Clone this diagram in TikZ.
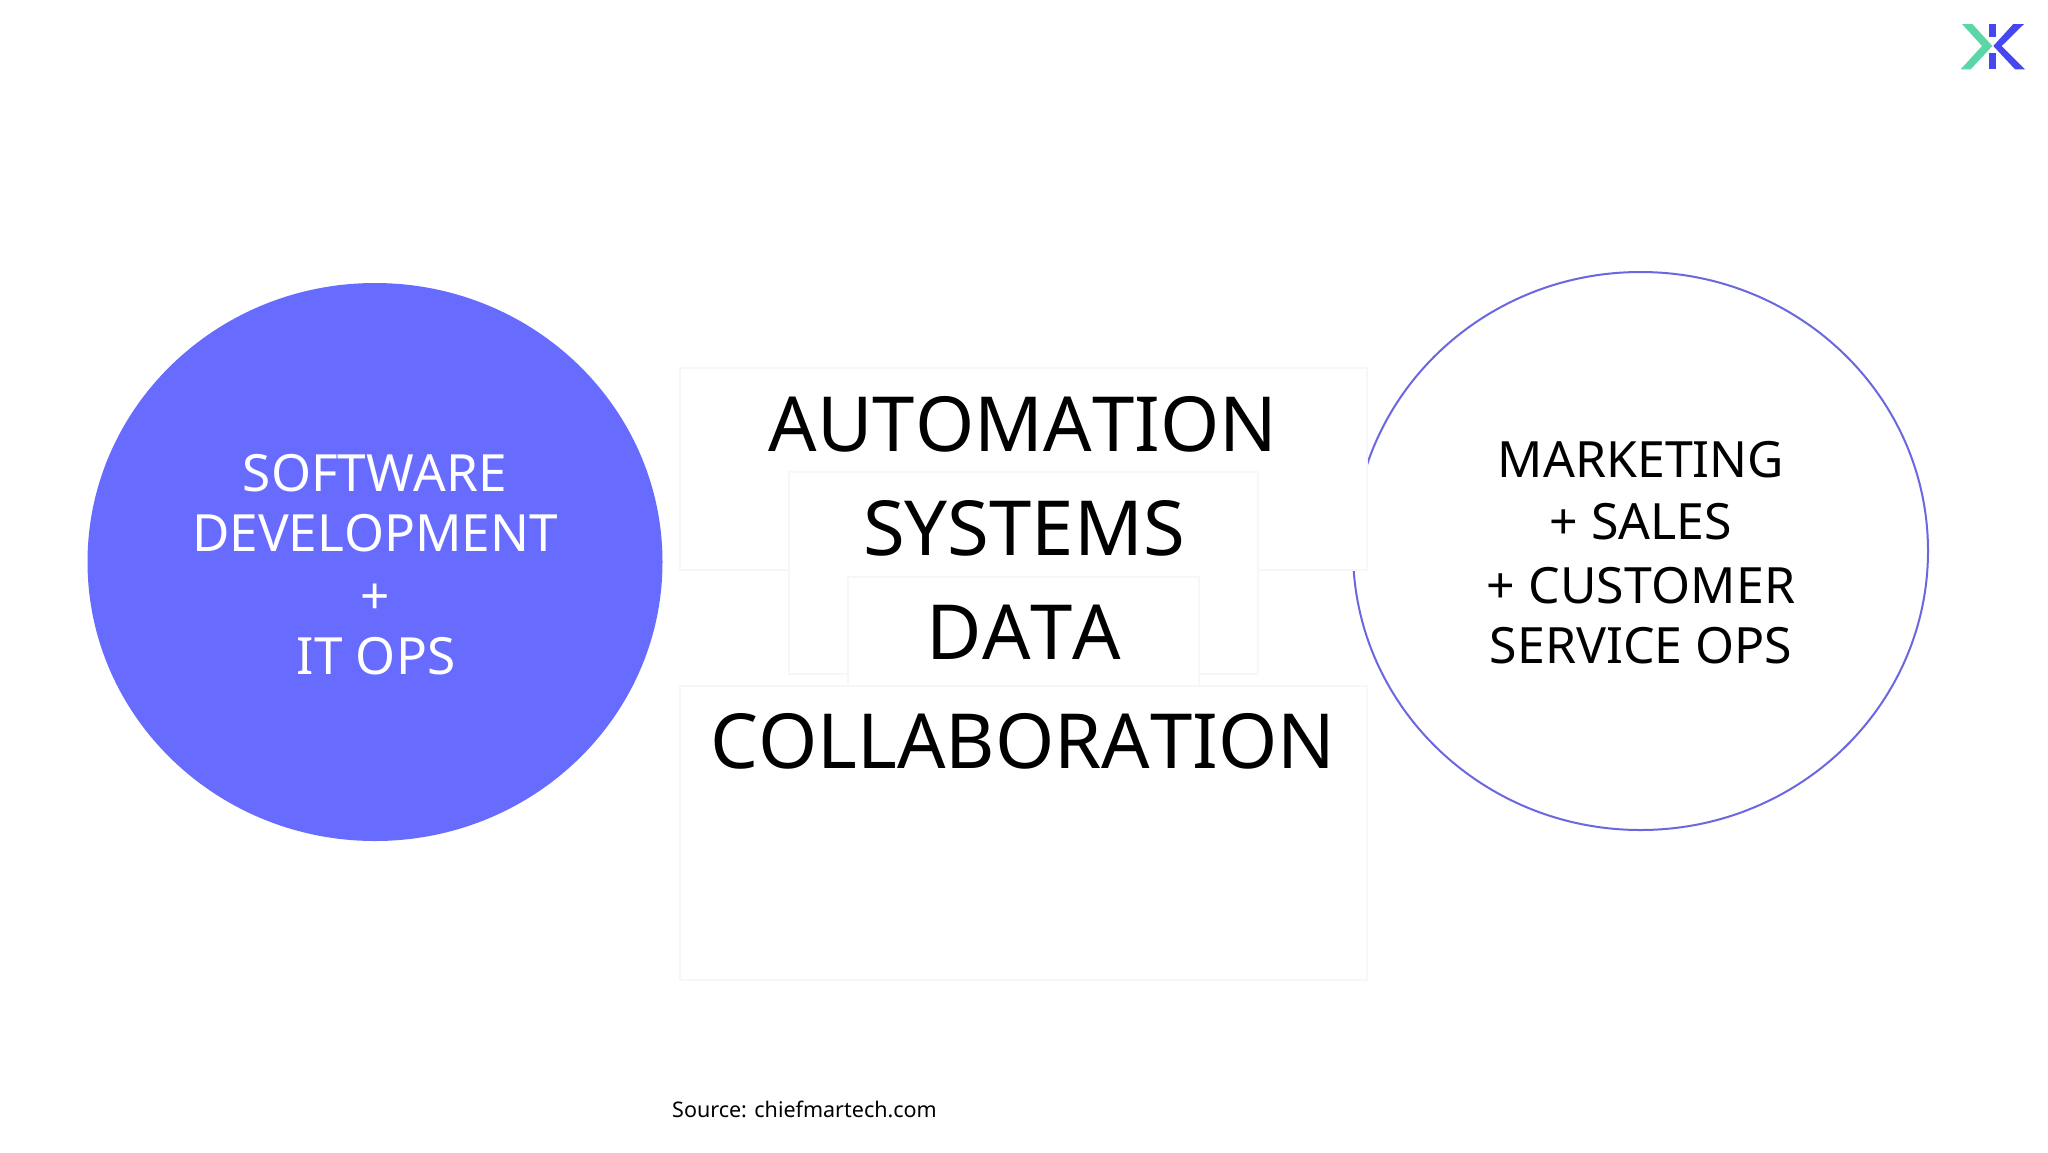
\documentclass[tikz,border=0pt]{standalone}
\usepackage{fontspec}
\setmainfont{Noto Sans}[Kerning=Off]
\newfontfamily\kernedfont{Noto Sans}
\definecolor{violet}{HTML}{676CFF}
\definecolor{ringc}{HTML}{6A67E0}
\definecolor{boxline}{HTML}{F8F6FA}
\definecolor{logog}{HTML}{5BD6A6}
\definecolor{logob}{HTML}{4647F0}
\tikzset{x=1pt,y=-1pt,
 layer/.style={draw=boxline,fill=white,line width=1.4pt},
 big/.style={anchor=base,font=\fontsize{76}{76}\selectfont,text=black,inner sep=0pt},
 mid/.style={anchor=base,font=\fontsize{50}{50}\selectfont,inner sep=0pt},
 midleft/.style={anchor=base,font=\fontsize{51.3}{51.3}\selectfont,text=white,inner sep=0pt}}
\begin{document}
\begin{tikzpicture}
\useasboundingbox (0,0) rectangle (2048,1152);
\fill[white] (0,0) rectangle (2048,1152);
\fill[violet] (375,562) ellipse [x radius=287.5,y radius=279];
\draw[ringc,line width=2pt] (1640.5,551) ellipse [x radius=287.5,y radius=279];
\draw[layer] (680,368) rectangle (1367,570);
\draw[layer] (789,472) rectangle (1258,674);
\draw[layer] (848,577) rectangle (1199,690);
\draw[layer] (680,686) rectangle (1367,980);
\node[big] (auto) at (1023,451) {AUTOMATION};
\node[big] (sys) at (1024,555) {SYSTEMS};
\node[big] (data) at (1024,659) {DATA};
\node[big] (coll) at (1023,768) {COLLABORATION};
\node[midleft] (l1) at (375,491) {SOFTWARE};
\node[midleft] (l2) at (375,551) {DEVELOPMENT};
\node[midleft] (l3) at (375,614) {+};
\node[midleft] (l4) at (376,674) {IT OPS};
\node[mid] (r1) at (1641,477) {MARKETING};
\node[mid] (r2) at (1641,539) {+ SALES};
\node[mid] (r3) at (1641,603) {+ CUSTOMER};
\node[mid] (r4) at (1641,663) {SERVICE OPS};
\node[anchor=base west,inner sep=0pt,font=\kernedfont\fontsize{21.5}{22}\selectfont] (src) at (672,1117) {Source: chiefmartech.com};
\fill[logog] (1962,24) -- (1972.3,24) -- (1992.3,46) -- (1970.7,69.3) -- (1960.7,69.3) -- (1982,46) -- cycle;
\fill[logob] (1989.3,24) rectangle (1996,36.7);
\fill[logob] (1989.3,52.7) rectangle (1996,69.3);
\fill[logob] (2013.3,24) -- (2024,24) -- (2001.7,46) -- (2025,69.3) -- (2015,69.3) -- (1993.3,46) -- cycle;
\end{tikzpicture}
\end{document}
